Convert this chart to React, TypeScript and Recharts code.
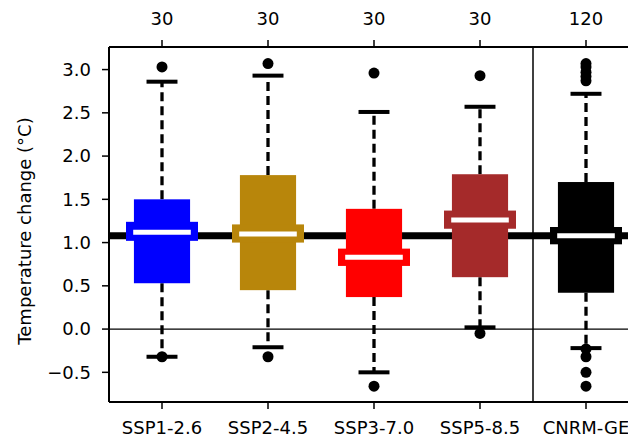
import { ComposedChart, Bar, Scatter, XAxis, YAxis, ReferenceLine, Label } from 'recharts';

const CATEGORIES = ['SSP1-2.6', 'SSP2-4.5', 'SSP3-7.0', 'SSP5-8.5', 'CNRM-GE'];
const COUNTS = [30, 30, 30, 30, 120];
const COLORS = ['#0000ff', '#b8860b', '#ff0000', '#a52a2a', '#000000'];

// box statistics (°C)
const WHISKER_LOW = [-0.32, -0.21, -0.5, 0.02, -0.22];
const Q1 = [0.53, 0.45, 0.37, 0.6, 0.42];
const NOTCH_LOW = [1.02, 1.0, 0.73, 1.16, 0.98];
const MEDIAN = [1.12, 1.1, 0.83, 1.26, 1.08];
const NOTCH_HIGH = [1.24, 1.21, 0.93, 1.37, 1.18];
const Q3 = [1.5, 1.78, 1.39, 1.79, 1.7];
const WHISKER_HIGH = [2.86, 2.93, 2.51, 2.57, 2.72];
const OUTLIERS = [
  [3.03, -0.32],
  [3.07, -0.32],
  [2.96, -0.66],
  [2.93, -0.05],
  [3.07, 3.03, 2.97, 2.92, 2.87, -0.23, -0.32, -0.5, -0.66],
];

const REFERENCE_MEDIAN = 1.08;
const Y_TICKS = [-0.5, 0, 0.5, 1, 1.5, 2, 2.5, 3];

const FONT = 'DejaVu Sans';
const FONT_SIZE = 18;

const boxData = CATEGORIES.map((name, i) => ({
  name,
  i,
  range: [WHISKER_LOW[i], WHISKER_HIGH[i]],
}));

const outlierData = OUTLIERS.flatMap((vals, i) =>
  vals.map((value) => ({ name: CATEGORIES[i], value }))
);

const BoxShape = (props: any) => {
  const { x, y, width, height, payload } = props;
  const i = payload.i;
  const lo = WHISKER_LOW[i];
  const hi = WHISKER_HIGH[i];
  const top = Math.min(y, y + height);
  const bottom = Math.max(y, y + height);
  const k = (bottom - top) / (hi - lo);
  const py = (v: number) => top + (hi - v) * k;
  const c = x + width / 2;
  const boxW = width * 0.78;
  const medW = width * 0.8;
  const capW = width * 0.43;
  const color = COLORS[i];

  return (
    <g>
      {/* whiskers */}
      <line x1={c} x2={c} y1={py(Q3[i])} y2={py(hi)} stroke="#000" strokeWidth={3.3} strokeDasharray="9 5" />
      <line x1={c} x2={c} y1={py(Q1[i])} y2={py(lo)} stroke="#000" strokeWidth={3.3} strokeDasharray="9 5" />
      {/* caps */}
      <line x1={c - capW / 2} x2={c + capW / 2} y1={py(hi)} y2={py(hi)} stroke="#000" strokeWidth={4} />
      <line x1={c - capW / 2} x2={c + capW / 2} y1={py(lo)} y2={py(lo)} stroke="#000" strokeWidth={4} />
      {/* box */}
      <rect x={c - boxW / 2} y={py(Q3[i])} width={boxW} height={py(Q1[i]) - py(Q3[i])} fill={color} />
      {/* notch band */}
      <rect x={c - width / 2} y={py(NOTCH_HIGH[i])} width={width} height={py(NOTCH_LOW[i]) - py(NOTCH_HIGH[i])} fill={color} />
      {/* median */}
      <line x1={c - medW / 2} x2={c + medW / 2} y1={py(MEDIAN[i])} y2={py(MEDIAN[i])} stroke="#fff" strokeWidth={5} />
    </g>
  );
};

const fmtY = (v: number) => (v < 0 ? '\u2212' + Math.abs(v).toFixed(1) : v.toFixed(1));

export default function App() {
  return (
    <div style={{ margin: -8, width: 636, height: 442, overflow: 'hidden', background: '#fff', fontFamily: FONT }}>
      <ComposedChart
        width={650}
        height={442}
        data={boxData}
        margin={{ top: 0, right: 11, bottom: 0, left: 0 }}
      >
        <XAxis
          dataKey="name"
          type="category"
          allowDuplicatedCategory={false}
          height={40}
          axisLine={{ stroke: '#000', strokeWidth: 2 }}
          tickLine={{ stroke: '#000', strokeWidth: 1.5 }}
          tickSize={7}
          tickMargin={12}
          interval={0}
          tick={{ fill: '#000', fontSize: FONT_SIZE, fontFamily: FONT }}
        />
        <XAxis
          xAxisId="top"
          orientation="top"
          dataKey="name"
          type="category"
          allowDuplicatedCategory={false}
          height={47}
          axisLine={{ stroke: '#000', strokeWidth: 2 }}
          tickLine={{ stroke: '#000', strokeWidth: 1.5 }}
          tickSize={7}
          tickMargin={15}
          interval={0}
          tickFormatter={(_v: string, idx: number) => String(COUNTS[idx])}
          tick={{ fill: '#000', fontSize: FONT_SIZE, fontFamily: FONT }}
        />
        <YAxis
          type="number"
          domain={[-0.843, 3.261]}
          allowDataOverflow
          ticks={Y_TICKS}
          interval={0}
          width={109}
          axisLine={{ stroke: '#000', strokeWidth: 2 }}
          tickLine={{ stroke: '#000', strokeWidth: 1.5 }}
          tickSize={7}
          tickMargin={11}
          tickFormatter={fmtY}
          tick={{ fill: '#000', fontSize: FONT_SIZE, fontFamily: FONT }}
        >
          <Label
            content={() => (
              <text
                x={31}
                y={231}
                transform="rotate(-90, 31, 231)"
                textAnchor="middle"
                fontSize={FONT_SIZE}
                fontFamily={FONT}
                fill="#000"
              >
                Temperature change (°C)
              </text>
            )}
          />
        </YAxis>
        <ReferenceLine y={0} stroke="#000" strokeWidth={1.2} zIndex={100} isFront={false} />
        <ReferenceLine y={REFERENCE_MEDIAN} stroke="#000" strokeWidth={7} zIndex={100} isFront={false} />
        <ReferenceLine x="CNRM-GE" position="start" stroke="#000" strokeWidth={1.5} zIndex={100} isFront={false} />
        <Bar dataKey="range" barSize={72} shape={BoxShape} isAnimationActive={false} />
        <Scatter
          data={outlierData}
          dataKey="value"
          isAnimationActive={false}
          shape={(p: any) => <circle cx={p.cx} cy={p.cy} r={5.5} fill="#000" />}
        />
      </ComposedChart>
    </div>
  );
}
